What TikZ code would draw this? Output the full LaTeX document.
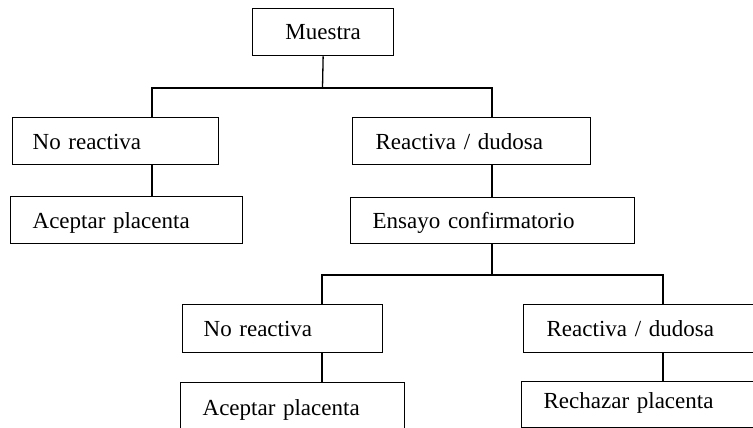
\documentclass[tikz,border=0pt]{standalone}
\usepackage{fontspec}
\setmainfont{Liberation Serif}
\begin{document}
\begin{tikzpicture}[x=1pt,y=-1pt,
  box/.style={draw=black, line width=1.3pt, anchor=north west, inner sep=0pt,
    align=left, text height=19pt, text depth=3pt,
    font=\fontsize{23}{27}\selectfont},
  link/.style={draw=black, line width=1.3pt}]
\useasboundingbox (0,0) rectangle (753,428);
% boxes
\node[box, align=center, minimum width=141pt, minimum height=47pt, text width=101pt, text height=17pt] (muestra) at (252,8) {Muestra};
\node[box, minimum width=206pt, minimum height=47pt, text width=166pt] (nr1) at (12,117) {No reactiva};
\node[box, minimum width=232pt, minimum height=47pt, text width=188pt] (ac1) at (10,196) {Aceptar placenta};
\node[box, minimum width=238pt, minimum height=47pt, text width=192pt] (rd1) at (352,117) {Reactiva / dudosa};
\node[box, minimum width=284pt, minimum height=46pt, text width=240pt] (ens) at (350,197) {Ensayo confirmatorio};
\node[box, minimum width=200pt, minimum height=48pt, text width=158pt] (nr2) at (182,304) {No reactiva};
\node[box, minimum width=224pt, minimum height=58pt, text width=180pt, text height=12pt, text depth=4pt] (ac2) at (180,382) {Aceptar placenta};
\node[box, minimum width=252pt, minimum height=48pt, text width=206pt] (rd2) at (523,304) {Reactiva / dudosa};
\node[box, minimum width=252pt, minimum height=46pt, text width=208pt, text height=12pt, text depth=4pt] (rec) at (521,381) {Rechazar placenta};
% junction coordinates
\coordinate (j1) at (322.5,88);
\coordinate (l1) at (152,88);
\coordinate (r1) at (492,88);
\coordinate (j2) at (492,275);
\coordinate (l2) at (322,275);
\coordinate (r2) at (663,275);
% connectors
\draw[link] (muestra.south) -- (j1);
\draw[link] (nr1.north -| l1) -- (l1) -- (r1) -- (rd1.north -| r1);
\draw[link] (nr1.south -| l1) -- (ac1.north -| l1);
\draw[link] (rd1.south -| r1) -- (ens.north -| r1);
\draw[link] (ens.south -| j2) -- (j2);
\draw[link] (nr2.north -| l2) -- (l2) -- (r2) -- (rd2.north -| r2);
\draw[link] (nr2.south -| l2) -- (ac2.north -| l2);
\draw[link] (rd2.south -| r2) -- (rec.north -| r2);
\end{tikzpicture}
\end{document}
